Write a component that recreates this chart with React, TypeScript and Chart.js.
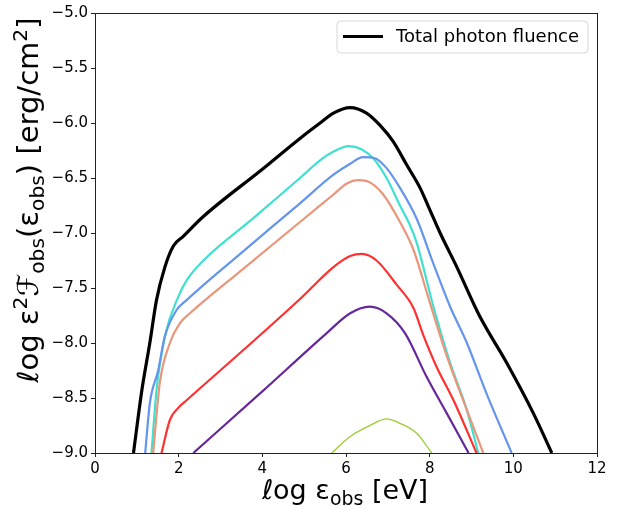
import React, { useEffect, useRef } from "react";
import { Chart, registerables } from "chart.js";

Chart.register(...registerables);

// ---- data (log eps_obs [eV], log eps^2 F [erg/cm^2]) ----
const totalX = [0.92, 1.12, 1.31, 1.47, 1.67, 1.87, 2.11, 2.59, 4.0, 4.9, 5.38, 5.7, 6.1, 6.49, 6.81, 7.13, 7.45, 7.77, 7.97, 8.25, 8.65, 9.2, 9.84, 10.48, 10.92];
const totalY = [-9.0, -8.43, -8.0, -7.61, -7.31, -7.12, -7.03, -6.85, -6.42, -6.14, -6.0, -5.91, -5.86, -5.91, -6.02, -6.17, -6.38, -6.59, -6.76, -7.0, -7.31, -7.76, -8.18, -8.64, -9.0];

const turqX = [1.35, 1.47, 1.67, 1.99, 2.19, 2.59, 3.8, 4.9, 5.38, 5.7, 6.06, 6.38, 6.65, 6.97, 7.29, 7.53, 7.69, 8.09, 8.49, 8.89, 9.16];
const turqY = [-9.0, -8.43, -7.94, -7.58, -7.43, -7.25, -6.86, -6.5, -6.34, -6.26, -6.21, -6.24, -6.32, -6.5, -6.75, -6.93, -7.09, -7.67, -8.18, -8.61, -9.0];

const blueX = [1.2, 1.31, 1.51, 1.67, 1.95, 2.19, 3.5, 4.9, 5.7, 6.1, 6.41, 6.69, 6.97, 7.29, 7.69, 8.09, 8.49, 8.89, 9.36, 9.96];
const blueY = [-9.0, -8.55, -8.25, -7.94, -7.7, -7.61, -7.18, -6.73, -6.47, -6.37, -6.31, -6.32, -6.41, -6.59, -6.87, -7.28, -7.67, -8.0, -8.46, -9.0];

const salmonX = [1.39, 1.55, 1.79, 2.03, 2.27, 3.5, 4.9, 5.7, 6.02, 6.29, 6.57, 6.89, 7.29, 7.61, 8.01, 8.41, 8.89, 9.28];
const salmonY = [-9.0, -8.36, -8.0, -7.82, -7.73, -7.34, -6.9, -6.65, -6.55, -6.52, -6.54, -6.65, -6.9, -7.15, -7.64, -8.12, -8.61, -9.0];

const redX = [1.59, 1.79, 1.99, 2.19, 3.5, 4.9, 5.7, 6.1, 6.38, 6.73, 7.21, 7.61, 7.85, 8.17, 8.57, 9.12];
const redY = [-9.0, -8.7, -8.59, -8.52, -8.08, -7.6, -7.31, -7.21, -7.19, -7.25, -7.47, -7.68, -7.93, -8.22, -8.52, -9.0];

const purpleX = [2.35, 4.0, 5.54, 6.1, 6.57, 6.97, 7.41, 7.93, 8.41, 8.93];
const purpleY = [-9.0, -8.44, -7.91, -7.73, -7.67, -7.73, -7.91, -8.31, -8.64, -9.0];

const greenX = [5.66, 6.1, 6.57, 6.97, 7.29, 7.69, 8.05];
const greenY = [-9.0, -8.85, -8.75, -8.69, -8.73, -8.82, -9.0];

const xTicks = [0, 2, 4, 6, 8, 10, 12];
const yTicks = [-9.0, -8.5, -8.0, -7.5, -7.0, -6.5, -6.0, -5.5, -5.0];

const legendLabel = "Total photon fluence";

const FONT = "'DejaVu Sans', sans-serif";

const pts = (xs: number[], ys: number[]) => xs.map((x, i) => ({ x, y: ys[i] }));

type Seg = { t: string; mode?: "sub" | "sup" };

function richWidth(ctx: CanvasRenderingContext2D, segs: Seg[], size: number) {
  let w = 0;
  for (const s of segs) {
    const sz = s.mode ? size * 0.7 : size;
    ctx.font = `${sz}px ${FONT}`;
    w += ctx.measureText(s.t).width;
  }
  return w;
}

function drawRich(ctx: CanvasRenderingContext2D, segs: Seg[], x: number, y: number, size: number) {
  let cx = x;
  ctx.textBaseline = "alphabetic";
  ctx.textAlign = "left";
  for (const s of segs) {
    const sz = s.mode ? size * 0.7 : size;
    ctx.font = `${sz}px ${FONT}`;
    const dy = s.mode === "sub" ? size * 0.22 : s.mode === "sup" ? -size * 0.38 : 0;
    ctx.fillText(s.t, cx, y + dy);
    cx += ctx.measureText(s.t).width;
  }
}

const xTitle: Seg[] = [{ t: "ℓog ε" }, { t: "obs", mode: "sub" }, { t: " [eV]" }];
const yTitle: Seg[] = [
  { t: "ℓog ε" },
  { t: "2", mode: "sup" },
  { t: "ℱ" },
  { t: "obs", mode: "sub" },
  { t: "(ε" },
  { t: "obs", mode: "sub" },
  { t: ") [erg/cm" },
  { t: "2", mode: "sup" },
  { t: "]" },
];

const decorPlugin = {
  id: "decor",
  afterDraw(chart: any) {
    const ctx: CanvasRenderingContext2D = chart.ctx;
    const a = chart.chartArea;
    ctx.save();
    // frame
    ctx.strokeStyle = "#222";
    ctx.lineWidth = 1;
    ctx.strokeRect(Math.round(a.left) + 0.5, Math.round(a.top) + 0.5, Math.round(a.right - a.left), Math.round(a.bottom - a.top));

    // legend
    const lx = 337, ly = 21, lw = 251, lh = 32, r = 4;
    ctx.beginPath();
    ctx.moveTo(lx + r, ly);
    ctx.lineTo(lx + lw - r, ly);
    ctx.quadraticCurveTo(lx + lw, ly, lx + lw, ly + r);
    ctx.lineTo(lx + lw, ly + lh - r);
    ctx.quadraticCurveTo(lx + lw, ly + lh, lx + lw - r, ly + lh);
    ctx.lineTo(lx + r, ly + lh);
    ctx.quadraticCurveTo(lx, ly + lh, lx, ly + lh - r);
    ctx.lineTo(lx, ly + r);
    ctx.quadraticCurveTo(lx, ly, lx + r, ly);
    ctx.closePath();
    ctx.fillStyle = "rgba(255,255,255,0.8)";
    ctx.fill();
    ctx.strokeStyle = "#d8d8d8";
    ctx.stroke();
    ctx.beginPath();
    ctx.moveTo(343, 36.5);
    ctx.lineTo(383, 36.5);
    ctx.strokeStyle = "#000";
    ctx.lineWidth = 3;
    ctx.stroke();
    ctx.fillStyle = "#000";
    ctx.font = `18px ${FONT}`;
    ctx.textBaseline = "middle";
    ctx.textAlign = "left";
    ctx.fillText(legendLabel, 396, 37);

    // x title
    const xs = 27;
    const xw = richWidth(ctx, xTitle, xs);
    ctx.fillStyle = "#000";
    drawRich(ctx, xTitle, 345 - xw / 2, 499, xs);

    // y title
    const ys = 29;
    const yw = richWidth(ctx, yTitle, ys);
    ctx.translate(38, 200);
    ctx.rotate(-Math.PI / 2);
    drawRich(ctx, yTitle, -yw / 2, 0, ys);
    ctx.restore();
  },
};

export default function App() {
  const ref = useRef<HTMLCanvasElement | null>(null);
  useEffect(() => {
    const canvas = ref.current!;
    const mk = (label: string, xs: number[], ys: number[], color: string, w: number) => ({
      label,
      data: pts(xs, ys),
      borderColor: color,
      backgroundColor: color,
      borderWidth: w,
      pointRadius: 0,
      fill: false,
      cubicInterpolationMode: "monotone" as const,
    });
    const chart = new Chart(canvas, {
      type: "line",
      data: {
        datasets: [
          mk("yellowgreen", greenX, greenY, "#9ACD32", 1.3),
          mk("purple", purpleX, purpleY, "#66279a", 2.2),
          mk("red", redX, redY, "#ff3030", 2.2),
          mk("salmon", salmonX, salmonY, "#E9967A", 2.2),
          mk("blue", blueX, blueY, "#6495ED", 2.2),
          mk("turquoise", turqX, turqY, "#40E0D0", 2.2),
          mk(legendLabel, totalX, totalY, "#000000", 3.2),
        ],
      },
      plugins: [decorPlugin],
      options: {
        animation: false,
        responsive: false,
        devicePixelRatio: 1,
        layout: { padding: { top: 13, right: 26, left: 0, bottom: 0 } },
        plugins: { legend: { display: false }, tooltip: { enabled: false } },
        scales: {
          x: {
            type: "linear",
            min: 0,
            max: 12,
            afterFit: (s: any) => { s.height = 56; },
            afterBuildTicks: (s: any) => { s.ticks = xTicks.map((v) => ({ value: v })); },
            ticks: {
              color: "#000",
              font: { family: FONT, size: 15 },
              padding: 3,
              maxRotation: 0,
              callback: (v: any) => String(v),
            },
            grid: { drawOnChartArea: false, drawTicks: true, tickLength: 4, color: "#222" },
            border: { display: true, color: "#222" },
          },
          y: {
            type: "linear",
            min: -9,
            max: -5,
            afterFit: (s: any) => { s.width = 95; },
            afterBuildTicks: (s: any) => { s.ticks = yTicks.map((v) => ({ value: v })); },
            ticks: {
              color: "#000",
              font: { family: FONT, size: 15 },
              padding: 3,
              callback: (v: any) => (Number(v) < 0 ? "\u2212" : "") + Math.abs(Number(v)).toFixed(1),
            },
            grid: { drawOnChartArea: false, drawTicks: true, tickLength: 4, color: "#222" },
            border: { display: true, color: "#222" },
          },
        },
      },
    });
    return () => chart.destroy();
  }, []);
  return (
    <div style={{ position: "fixed", left: 0, top: 0, width: 623, height: 509, background: "#fff" }}>
      <canvas ref={ref} width={623} height={509} style={{ display: "block" }} />
    </div>
  );
}
